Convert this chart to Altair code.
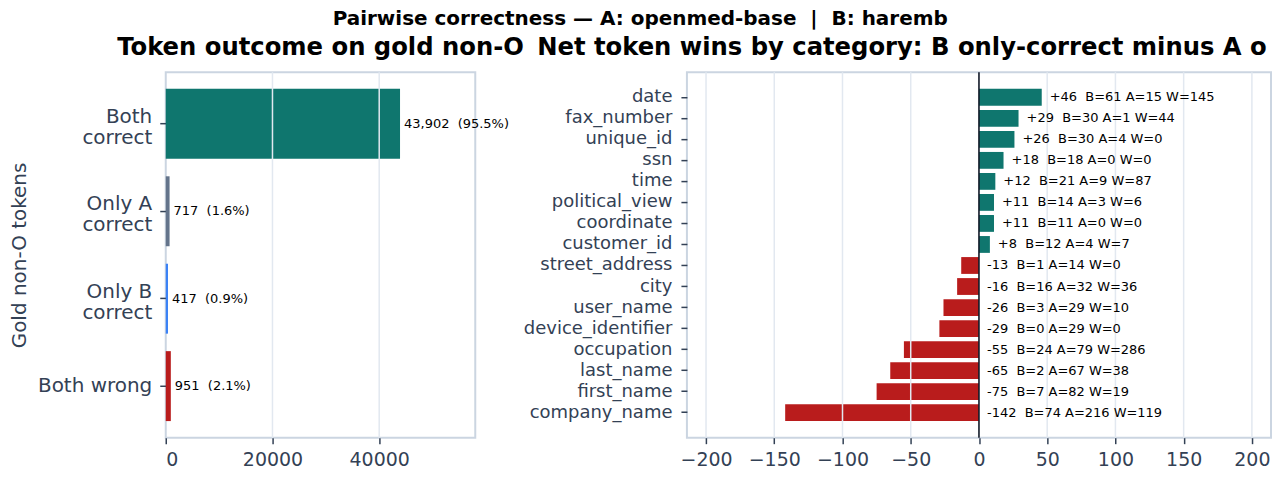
import altair as alt
import pandas as pd

FONT = "DejaVu Sans"
INK = "#334155"
GRID = "#e2e8f0"
FRAME = "#cbd5e1"
ZERO = "#111827"

# ---- left panel data ----
outcomes = ["Both\ncorrect", "Only A\ncorrect", "Only B\ncorrect", "Both wrong"]
outcome_counts = [43902, 717, 417, 951]
outcome_colors = ["#0f766e", "#64748b", "#3b82f6", "#b91c1c"]
left_ticks = [0, 20000, 40000]

# ---- right panel data ----
categories = ["date", "fax_number", "unique_id", "ssn", "time", "political_view",
              "coordinate", "customer_id", "street_address", "city", "user_name",
              "device_identifier", "occupation", "last_name", "first_name", "company_name"]
b_only = [61, 30, 30, 18, 21, 14, 11, 12, 1, 16, 3, 0, 24, 2, 7, 74]
a_only = [15, 1, 4, 0, 9, 3, 0, 4, 14, 32, 29, 29, 79, 67, 82, 216]
both_wrong = [145, 44, 0, 0, 87, 6, 0, 7, 0, 36, 10, 0, 286, 38, 19, 119]
right_ticks = [-200, -150, -100, -50, 0, 50, 100, 150, 200]

suptitle = "Pairwise correctness \u2014 A: openmed-base\u00a0 |\u00a0 B: haremb"
left_title = "Token outcome on gold non-O"
right_title = "Net token wins by category: B only-correct minus A only-correct"

total = sum(outcome_counts)
left_df = pd.DataFrame({"outcome": outcomes, "count": outcome_counts})
left_df["label"] = [f"{c:,}\u00a0 ({c / total * 100:.1f}%)" for c in outcome_counts]

right_df = pd.DataFrame({"category": categories, "B": b_only, "A": a_only, "W": both_wrong})
right_df["net"] = right_df["B"] - right_df["A"]
right_df["sign"] = ["pos" if n > 0 else "neg" for n in right_df["net"]]
right_df["tx"] = right_df["net"].clip(lower=0)
right_df["label"] = [f"{n:+d}\u00a0 B={b} A={a} W={w}" for n, b, a, w in
                     zip(right_df["net"], right_df["B"], right_df["A"], right_df["W"])]

# ---- left chart ----
left_xscale = alt.Scale(domain=[0, 58000], nice=False)
left_x_axis = alt.Axis(values=left_ticks, format="d", title=None, grid=False, labelPadding=7)
left_y = alt.Y("outcome:N", sort=outcomes,
               scale=alt.Scale(paddingInner=0.2, paddingOuter=0.19),
               axis=alt.Axis(title="Gold non-O tokens", labelExpr="split(datum.label, '\\n')",
                             labelFontSize=20, labelLineHeight=21, grid=False, titleFontSize=20,
                             labelOffset={"condition": {"test": "indexof(datum.label, '\\n') >= 0",
                                                        "value": -7}, "value": 0},
                             titleFontWeight="normal", titlePadding=8, labelPadding=8))
left_base = alt.Chart(left_df).encode(
    y=left_y,
    x=alt.X("count:Q", scale=left_xscale, axis=left_x_axis),
)
left_bars = left_base.mark_bar().encode(
    color=alt.Color("outcome:N", scale=alt.Scale(domain=outcomes, range=outcome_colors), legend=None)
)
left_grid = alt.Chart(pd.DataFrame({"tick": [t for t in left_ticks if t != 0]})).mark_rule(
    color=GRID, strokeWidth=1.5
).encode(x=alt.X("tick:Q", scale=left_xscale, axis=left_x_axis))
left_text = left_base.mark_text(align="left", baseline="middle", dx=4, fontSize=13,
                                font=FONT, color="black").encode(text="label:N")
left = alt.layer(left_bars, left_grid, left_text).properties(
    width=310, height=366,
    title=alt.TitleParams(left_title, fontSize=24.3, anchor="middle", offset=11),
)

# ---- right chart ----
right_xscale = alt.Scale(domain=[-214, 214], nice=False)
right_x_axis = alt.Axis(values=right_ticks, title=None, grid=False, labelPadding=7)
right_y = alt.Y("category:N", sort=categories,
                scale=alt.Scale(paddingInner=0.2, paddingOuter=0.79),
                axis=alt.Axis(title=None, grid=False, labelPadding=9))
right_base = alt.Chart(right_df).encode(y=right_y)
right_bars = right_base.mark_bar().encode(
    x=alt.X("net:Q", scale=right_xscale, axis=right_x_axis),
    color=alt.Color("sign:N", scale=alt.Scale(domain=["pos", "neg"], range=["#0f766e", "#b91c1c"]),
                    legend=None),
)
right_grid = alt.Chart(pd.DataFrame({"tick": [t for t in right_ticks if t != 0]})).mark_rule(
    color=GRID, strokeWidth=1.5
).encode(x=alt.X("tick:Q", scale=right_xscale, axis=right_x_axis))
zero_rule = alt.Chart(pd.DataFrame({"zero": [0]})).mark_rule(
    color=ZERO, strokeWidth=1.6
).encode(x=alt.X("zero:Q", scale=right_xscale, axis=right_x_axis))
right_text = right_base.mark_text(align="left", baseline="middle", dx=8, fontSize=13,
                                  font=FONT, color="black").encode(
    x=alt.X("tx:Q", scale=right_xscale, axis=right_x_axis),
    text="label:N",
)
right_title_mark = alt.Chart(pd.DataFrame({"t": [right_title]})).mark_text(
    align="left", baseline="alphabetic", fontSize=24.3, fontWeight="bold", font=FONT,
    color="black", limit=735, ellipsis="\u200b"
).encode(x=alt.value(-150), y=alt.value(-17), text="t:N")
right = alt.layer(right_bars, right_grid, zero_rule, right_text, right_title_mark).properties(
    width=585, height=366,
)

chart = alt.hconcat(left, right, spacing=212, bounds="flush").resolve_scale(
    color="independent"
).properties(
    title=alt.TitleParams(suptitle, fontSize=20, anchor="middle", dx=0, offset=6),
    padding={"left": 0, "top": 0, "right": 0, "bottom": 0},
).configure_view(
    stroke=FRAME, strokeWidth=2
).configure_axis(
    labelFont=FONT, titleFont=FONT, labelFontSize=18, labelColor=INK, titleColor=INK,
    tickColor=INK, tickSize=6, tickWidth=1.5, domain=False,
).configure_axisX(
    labelFontSize=19,
).configure_title(
    font=FONT, color="black", fontWeight="bold",
)

chart.save("out.html", embed_options={"renderer": "svg", "actions": False})
